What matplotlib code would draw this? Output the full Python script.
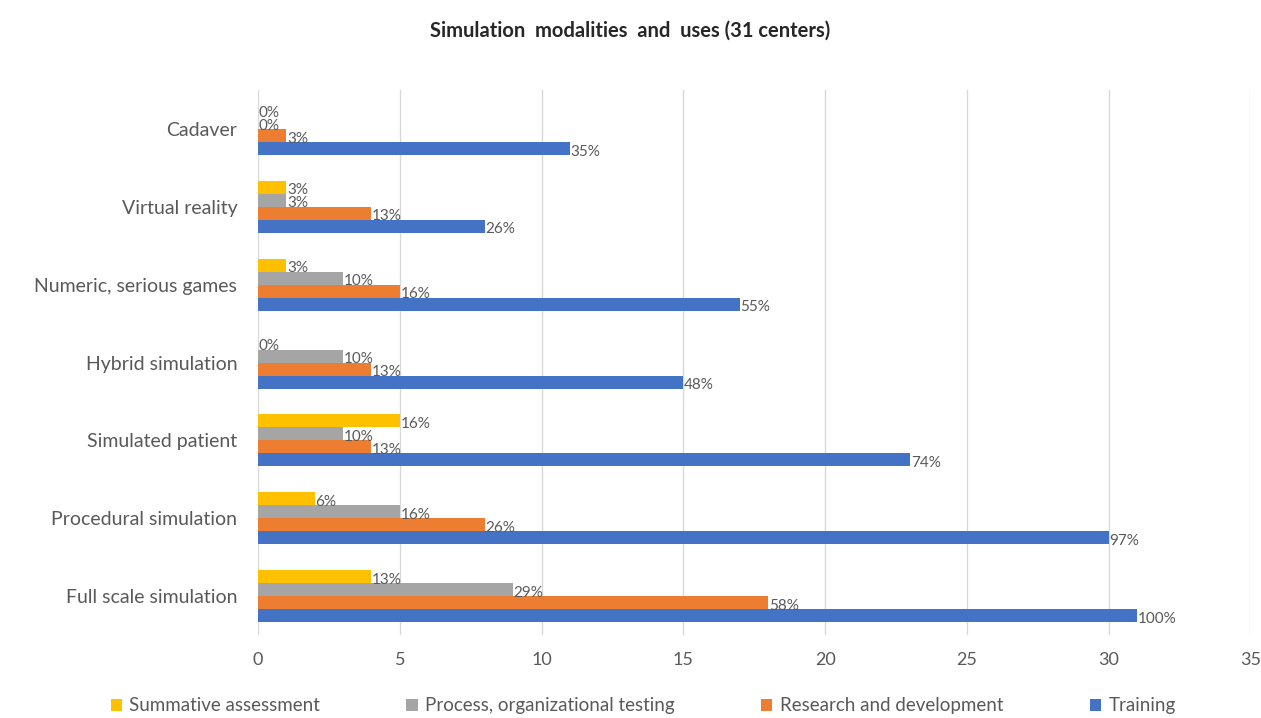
import matplotlib
matplotlib.use('Agg')
import matplotlib.pyplot as plt
import numpy as np

plt.rcParams['font.family'] = ['Lato', 'DejaVu Sans']

n_centers = 31
categories = ['Full scale simulation', 'Procedural simulation', 'Simulated patient',
              'Hybrid simulation', 'Numeric, serious games', 'Virtual reality', 'Cadaver']
training = [31, 30, 23, 15, 17, 8, 11]
research = [18, 8, 4, 4, 5, 4, 1]
process = [9, 5, 3, 3, 3, 1, 0]
summative = [4, 2, 5, 0, 1, 1, 0]

series = [
    ('Training', training, '#4472C4', -1.5),
    ('Research and development', research, '#ED7D31', -0.5),
    ('Process, organizational testing', process, '#A5A5A5', 0.5),
    ('Summative assessment', summative, '#FFC000', 1.5),
]

text_col = '#595959'
fig = plt.figure(figsize=(12.61, 7.18), dpi=100)
ax = fig.add_axes([0.2046, 0.1156, 0.787, 0.759])

y = np.arange(len(categories))
h = 0.167
handles = {}
for name, vals, col, off in series:
    bars = ax.barh(y + off * h, vals, height=h, color=col, label=name, zorder=3)
    handles[name] = bars
    for yy, v in zip(y + off * h, vals):
        ax.text(v + 0.02, yy - 0.04, f'{round(v / n_centers * 100)}%', va='center', ha='left',
                fontsize=11, color=text_col, zorder=4)

ax.set_xlim(0, 35)
ax.set_ylim(-0.5, 6.5)
ax.set_xticks(range(0, 36, 5))
ax.set_yticks(y)
ax.set_yticklabels(categories)
ax.tick_params(axis='both', length=0, labelsize=13, colors=text_col)
ax.tick_params(axis='y', labelsize=14, pad=15)
ax.tick_params(axis='x', pad=12)
ax.grid(axis='x', color='#D9D9D9', linewidth=1, zorder=0)
for s in ax.spines.values():
    s.set_visible(False)

fig.text(0.5, 0.957, 'Simulation  modalities  and  uses (31 centers)', ha='center', va='center',
         fontsize=14.5, fontweight='bold', color='#262626')

order = ['Summative assessment', 'Process, organizational testing', 'Research and development', 'Training']
leg = fig.legend([handles[k] for k in order], order, loc='center', bbox_to_anchor=(0.51, 0.017),
                 ncol=4, frameon=False, fontsize=13.5, handlelength=0.6, handleheight=0.6,
                 columnspacing=4.6, handletextpad=0.4)
for t in leg.get_texts():
    t.set_color(text_col)

fig.savefig('out.png', dpi=100)
